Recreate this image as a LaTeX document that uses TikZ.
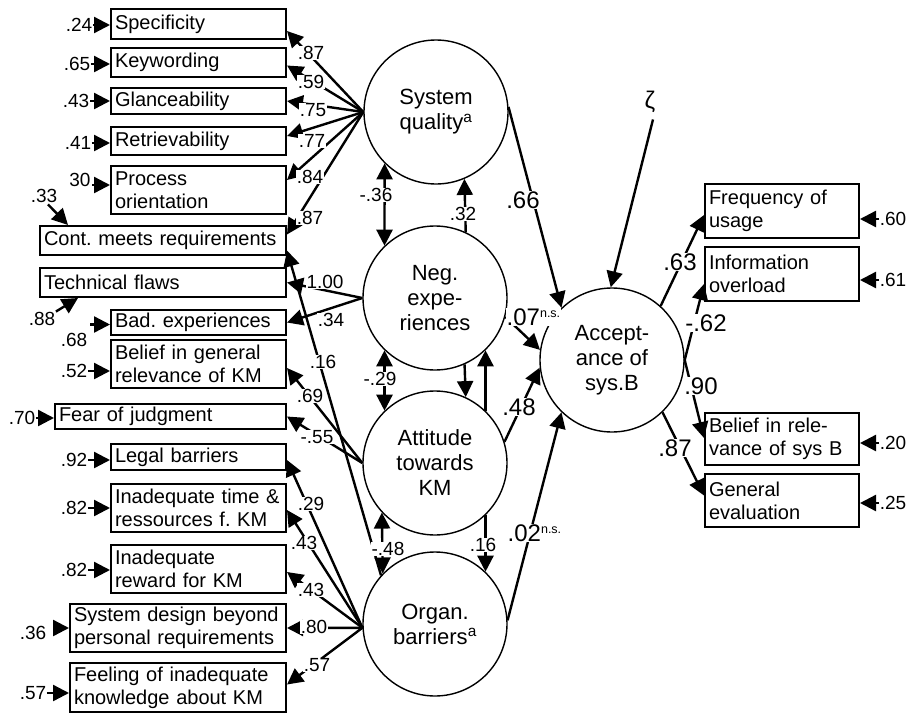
\documentclass[tikz,border=0pt]{standalone}
\usepackage{fontspec}
\setmainfont{Liberation Sans}
\usetikzlibrary{arrows.meta,calc}
\newcommand\nsmark{\raisebox{8pt}{\fontsize{12.5}{12.5}\selectfont n.s.}}
\frenchspacing
\begin{document}
\begin{tikzpicture}[x=1pt,y=-1pt,
  box/.style={draw, line width=2pt, align=left, inner xsep=4pt, inner ysep=0pt, font=\fontsize{20}{23}\selectfont},
  lat/.style={draw, circle, line width=1.4pt, minimum size=144pt, inner sep=0pt, align=center, font=\fontsize{22}{25}\selectfont},
  con/.style={line width=2.4pt, -{Triangle[length=16pt,width=16pt]}},
  bicon/.style={line width=2.4pt, {Triangle[length=16pt,width=16pt]}-{Triangle[length=16pt,width=16pt]}},
  sm/.style={font=\fontsize{19}{19}\selectfont, inner sep=0.5pt, fill=white},
  big/.style={font=\fontsize{24}{24}\selectfont, inner sep=0.5pt, fill=white},
  err/.style={font=\fontsize{19}{19}\selectfont, inner sep=0.5pt},
]
\useasboundingbox (0,0) rectangle (908,715);

% ---- left indicator boxes
\node[box, text width=167pt, minimum height=30pt] (spec) at (198.5,24) {Specificity};
\node[box, text width=167pt, minimum height=29pt] (key) at (198.5,62.5) {Keywording};
\node[box, text width=167pt, minimum height=26pt] (glan) at (198.5,101) {Glanceability};
\node[box, text width=167pt, minimum height=28pt] (retr) at (198.5,141) {Retrievability};
\node[box, text width=167pt, minimum height=48pt] (proc) at (198.5,190) {Process\\orientation};
\node[box, text width=238pt, minimum height=29pt] (cont) at (163,240.5) {Cont. meets requirements};
\node[box, text width=238pt, minimum height=29pt] (tech) at (163,282.5) {Technical flaws};
\node[box, text width=167pt, minimum height=25pt] (bad) at (198.5,322.5) {Bad. experiences};
\node[box, text width=167pt, minimum height=48pt] (belg) at (198.5,364) {Belief in general\\relevance of KM};
\node[box, text width=223pt, minimum height=25pt] (fear) at (170.5,416.5) {Fear of judgment};
\node[box, text width=167pt, minimum height=26pt] (legal) at (198.5,457) {Legal barriers};
\node[box, text width=167pt, minimum height=48pt] (time) at (198.5,508) {Inadequate time \&\\ressources f. KM};
\node[box, text width=167pt, minimum height=48pt] (reward) at (198.5,569) {Inadequate\\reward for KM};
\node[box, text width=208pt, minimum height=48pt] (sysd) at (178,628) {System design beyond\\personal requirements};
\node[box, text width=208pt, minimum height=49pt] (feel) at (178,687.5) {Feeling of inadequate\\knowledge about KM};

% ---- right indicator boxes
\node[box, text width=146pt, minimum height=54pt] (freq) at (782,211) {Frequency of\\usage};
\node[box, text width=146pt, minimum height=54pt] (info) at (782,274) {Information\\overload};
\node[box, text width=146pt, minimum height=52pt] (belr) at (782,439) {Belief in rele-\\vance of sys B};
\node[box, text width=146pt, minimum height=53pt] (gen) at (782,500.5) {General\\evaluation};

% ---- latent variables
\node[lat] (sq) at (436,112) {System\\quality\textsuperscript{a}};
\node[lat] (neg) at (435,298) {Neg.\\expe-\\riences};
\node[lat] (att) at (435,463) {Attitude\\towards\\KM};
\node[lat] (org) at (435,624) {Organ.\\barriers\textsuperscript{a}};
\node[lat] (acc) at (612,360) {Accept-\\ance of\\sys.B};
\node[font=\fontsize{24}{24}\selectfont, inner sep=0.5pt] (zeta) at (650,102) {ζ};

% ---- loadings
\draw[con] (sq.west) -- ($(spec.east)+(0,7)$);
\draw[con] (sq.west) -- ($(key.east)+(0,3)$);
\draw[con] (sq.west) -- (glan.east);
\draw[con] (sq.west) -- ($(retr.east)+(0,-5)$);
\draw[con] (sq.west) -- ($(proc.east)+(0,-10)$);
\draw[con] (sq.west) -- ($(cont.east)+(0,-6)$);
\draw[con] (neg.west) -- (tech.east);
\draw[con] (neg.west) -- (bad.east);
\draw[con] (att.west) -- ($(belg.east)+(0,4)$);
\draw[con] (att.west) -- (fear.east);
\draw[con] (org.183) -- ($(legal.east)+(0,3)$);
\draw[con] (org.183) -- ($(time.east)+(0,2)$);
\draw[con] (org.183) -- ($(reward.east)+(0,3)$);
\draw[con] (org.183) -- (sysd.east);
\draw[con] (org.183) -- ($(feel.east)+(0,-3)$);
\draw[con] (org.138) -- ($(cont.east)+(0,10)$);

% ---- latent relations
\draw[bicon] (sq.225) -- (neg.134);
\draw[con] (neg.65.4) -- (sq.293.7);
\draw[bicon] (neg.226) -- (att.134);
\draw[con] (neg.294.6) -- (att.65.4);
\draw[con] (att.46) -- (neg.314);
\draw[bicon] (att.223.8) -- (org.136.2);
\draw[con] (att.314) -- (org.46);

\draw[con] (sq.4) -- (acc.134);
\draw[con] (neg.345) -- (acc.172);
\draw[con] (att.17) -- (acc.186);
\draw[con] (org.3) -- (acc.226);
\draw[con] ($(zeta.south)+(3,6)$) -- (acc.91);

\draw[con] (acc.48) -- ($(freq.west)+(0,4)$);
\draw[con] (acc.east) -- ($(info.west)+(0,10)$);
\draw[con] (acc.east) -- ($(belr.west)+(0,-1)$);
\draw[con] (acc.314) -- ($(gen.west)+(0,-5)$);

% ---- loading labels
\node[sm] (l1) at (311,53) {.87};
\node[sm] (l2) at (311,82) {.59};
\node[sm] (l3) at (313,110) {.75};
\node[sm] (l4) at (312,141) {.77};
\node[sm] (l5) at (310,177) {.84};
\node[sm] (l6) at (310,218) {.87};
\node[sm] (l7) at (325,282) {1.00};
\node[sm] (l8) at (331,320) {.34};
\node[sm] (l9) at (323,362) {.16};
\node[sm] (l10) at (310,396) {.69};
\node[sm] (l11) at (317,437) {-.55};
\node[sm] (l12) at (311,504) {.29};
\node[sm] (l13) at (304,543) {.43};
\node[sm] (l14) at (311,590) {.43};
\node[sm] (l15) at (314,627) {.80};
\node[sm] (l16) at (317,665) {.57};

\node[sm] (r1) at (376,195) {-.36};
\node[sm] (r2) at (463,214) {.32};
\node[sm] (r3) at (380,379) {-.29};
\node[sm] (r4) at (388,549) {-.48};
\node[sm] (r5) at (483,545) {.16};

\node[big] (p1) at (523,200) {.66};
\node[big, anchor=west] (p2) at (506,317) {.07\nsmark};
\node[big] (p3) at (519,407) {.48};
\node[big, anchor=west] (p4) at (507,533) {.02\nsmark};
\node[big] (p5) at (680,262) {.63};
\node[big] (p6) at (706,323) {-.62};
\node[big] (p7) at (701,386) {.90};
\node[big] (p8) at (675,448) {.87};

% ---- error terms, left
\node[err] (e1) at (79,25) {.24};
\node[err] (e2) at (77,64) {.65};
\node[err] (e3) at (76,101) {.43};
\node[err] (e4) at (78,143) {.41};
\node[err] (e5) at (80,180) {30};
\node[err] (e6) at (44,196) {.33};
\node[err] (e7) at (42,319) {.88};
\node[err] (e8) at (74,340) {.68};
\node[err] (e9) at (74,371) {.52};
\node[err] (e10) at (22,418) {.70};
\node[err] (e11) at (74,460) {.92};
\node[err] (e12) at (74,508) {.82};
\node[err] (e13) at (74,570) {.82};
\node[err] (e14) at (33,633) {.36};
\node[err] (e15) at (33,693) {.57};

\draw[con] (e1.east) -- (e1.east -| spec.west);
\draw[con] (e2.east) -- (e2.east -| key.west);
\draw[con] (e3.east) -- (e3.east -| glan.west);
\draw[con] (e4.east) -- (e4.east -| retr.west);
\draw[con] ($(proc.west)+(-18,-5)$) -- ($(proc.west)+(0,-5)$);
\draw[con] ($(e6.south)+(4,1)$) -- ($(cont.north west)+(29,0)$);
\draw[con] (e7.north east) -- ($(tech.south west)+(39,0)$);
\draw[con] ($(bad.west)+(-20,2)$) -- ($(bad.west)+(0,2)$);
\draw[con] (e9.east) -- (e9.east -| belg.west);
\draw[con] (e10.east) -- (e10.east -| fear.west);
\draw[con] (e11.east) -- (e11.east -| legal.west);
\draw[con] (e12.east) -- (e12.east -| time.west);
\draw[con] (e13.east) -- (e13.east -| reward.west);
\draw[con] ($(sysd.west)+(-14,0)$) -- (sysd.west);
\draw[con] (e15.east) -- (e15.east -| feel.west);

% ---- error terms, right
\node[err] (f1) at (893,219) {.60};
\node[err] (f2) at (893,280) {.61};
\node[err] (f3) at (893,443) {.20};
\node[err] (f4) at (893,503) {.25};
\draw[con] (f1.west) -- (f1.west -| freq.east);
\draw[con] (f2.west) -- (f2.west -| info.east);
\draw[con] (f3.west) -- (f3.west -| belr.east);
\draw[con] (f4.west) -- (f4.west -| gen.east);
\end{tikzpicture}
\end{document}
